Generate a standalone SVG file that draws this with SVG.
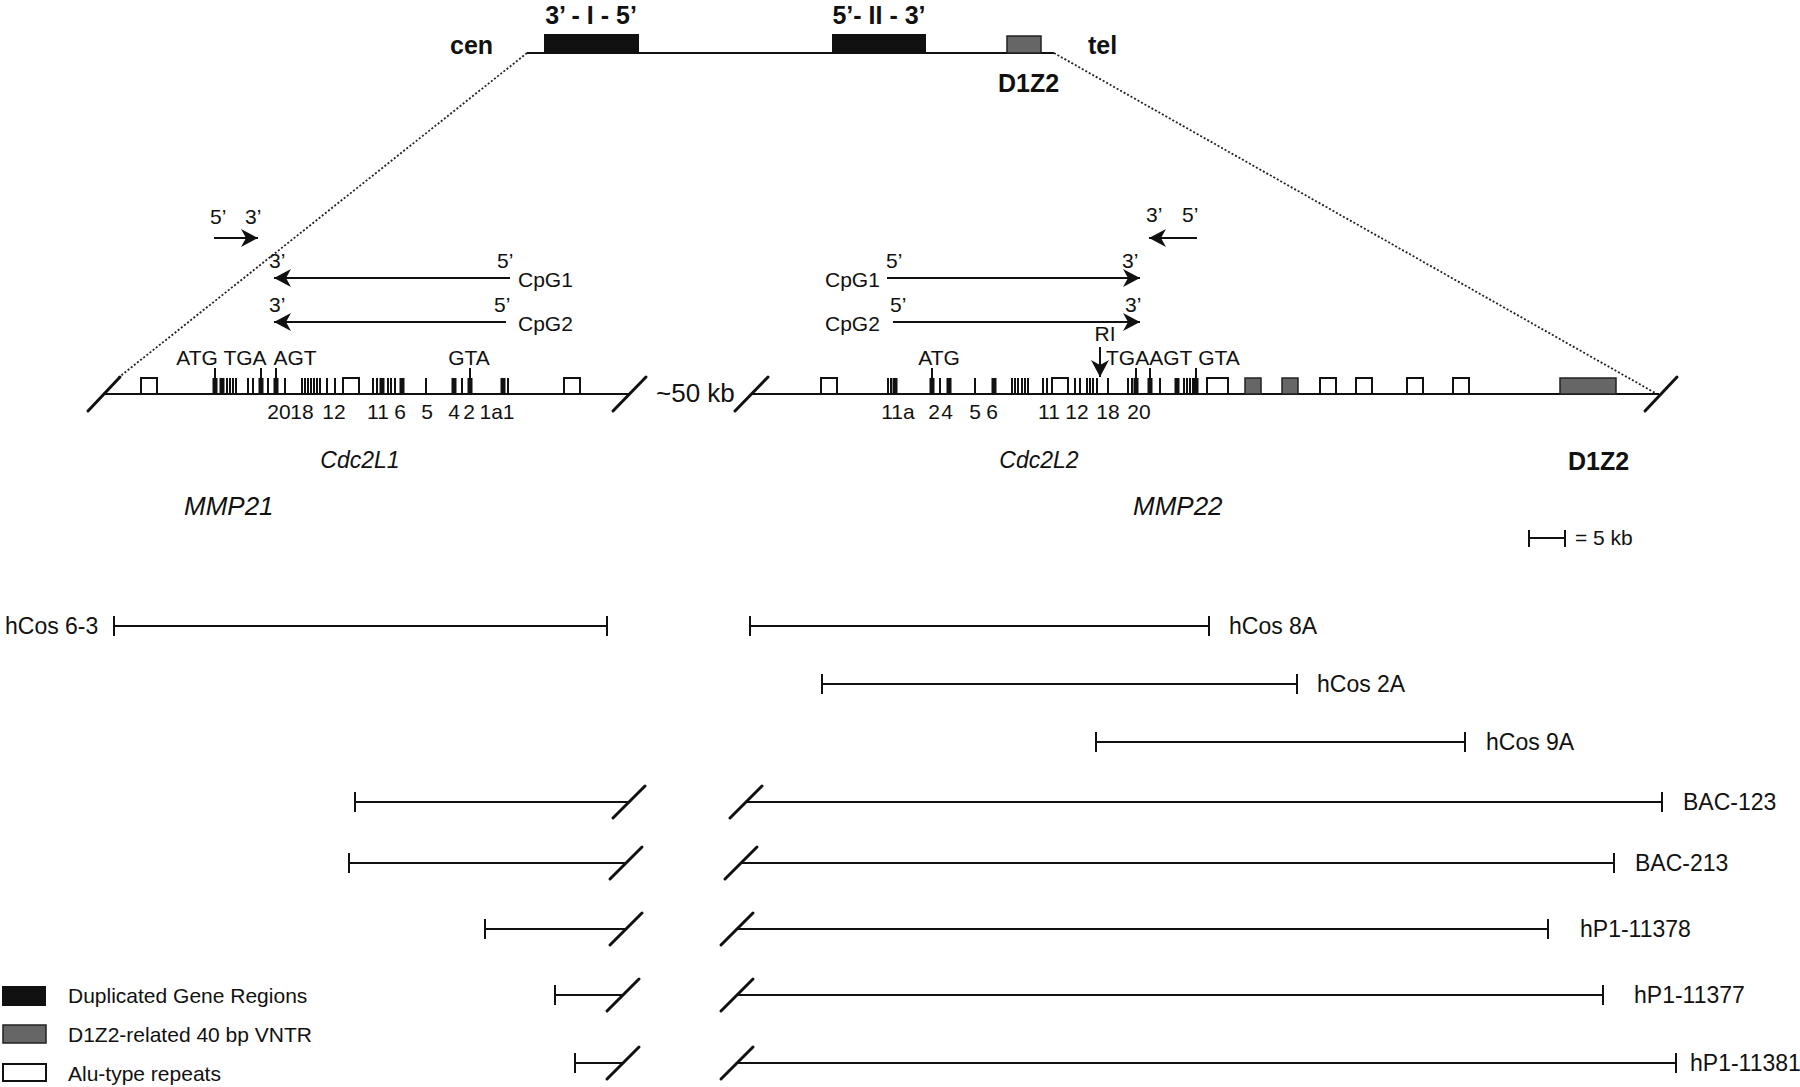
<svg xmlns="http://www.w3.org/2000/svg" width="1800" height="1087" viewBox="0 0 1800 1087">
<style>
text{font-family:"Liberation Sans",Arial,sans-serif;fill:#111}
.b{font-weight:bold;font-size:25px}
.l{font-size:21px}
.s{font-size:21px}
.n{font-size:21px;text-anchor:middle}
.it{font-style:italic;font-size:23px}
.mm{font-style:italic;font-size:26px}
.cl{font-size:23px}
.ln{stroke:#111;stroke-width:2;fill:none}
.sl{stroke:#111;stroke-width:3;fill:none;stroke-linecap:round}
.th{stroke:#111;stroke-width:2;fill:none}
.tk{stroke:#111;stroke-width:5;fill:none}
.alu{fill:#fff;stroke:#111;stroke-width:2}
.vn{fill:#666;stroke:#222;stroke-width:1.5}
.dup{fill:#111}
.dot{stroke:#222;stroke-width:1.8;stroke-dasharray:2 2;fill:none}
</style>
<defs>
<marker id="ah" markerWidth="20" markerHeight="20" viewBox="-18 -10 20 20" refX="0" refY="0" orient="auto" markerUnits="userSpaceOnUse">
<path d="M0,0 L-17,-9 L-12,0 L-17,9 Z" fill="#111"/>
</marker>
</defs>
<rect width="1800" height="1087" fill="#fff"/>

<g id="chromosome">
<line class="ln" x1="527" y1="53" x2="1054" y2="53"/>
<rect class="dup" x="544" y="34" width="95" height="19"/>
<rect class="dup" x="832" y="34" width="94" height="19"/>
<rect class="vn" x="1007" y="36" width="34" height="17"/>
<text class="b" x="591" y="24" text-anchor="middle">3’ - I - 5’</text>
<text class="b" x="879" y="24" text-anchor="middle">5’- II - 3’</text>
<text class="b" x="450" y="54">cen</text>
<text class="b" x="1088" y="54">tel</text>
<text class="b" x="998" y="92">D1Z2</text>
</g>

<g id="connectors">
<line class="dot" x1="527" y1="53" x2="118" y2="378"/>
<line class="dot" x1="1054" y1="53" x2="1657" y2="394"/>
</g>

<g id="primers">
<text class="l" x="210" y="224">5’</text>
<text class="l" x="245" y="224">3’</text>
<line class="ln" x1="214" y1="238" x2="258" y2="238" marker-end="url(#ah)"/>
<text class="l" x="1146" y="222">3’</text>
<text class="l" x="1182" y="222">5’</text>
<line class="ln" x1="1197" y1="238" x2="1149" y2="238" marker-end="url(#ah)"/>
</g>

<g id="cpg-left">
<text class="l" x="269" y="268">3’</text>
<text class="l" x="497" y="268">5’</text>
<line class="ln" x1="510" y1="278" x2="274" y2="278" marker-end="url(#ah)"/>
<text class="l" x="518" y="287">CpG1</text>
<text class="l" x="269" y="312">3’</text>
<text class="l" x="494" y="312">5’</text>
<line class="ln" x1="506" y1="322" x2="274" y2="322" marker-end="url(#ah)"/>
<text class="l" x="518" y="331">CpG2</text>
</g>

<g id="cpg-right">
<text class="l" x="825" y="287">CpG1</text>
<text class="l" x="886" y="268">5’</text>
<line class="ln" x1="887" y1="278" x2="1140" y2="278" marker-end="url(#ah)"/>
<text class="l" x="1122" y="268">3’</text>
<text class="l" x="825" y="331">CpG2</text>
<text class="l" x="890" y="312">5’</text>
<line class="ln" x1="893" y1="322" x2="1140" y2="322" marker-end="url(#ah)"/>
<text class="l" x="1125" y="312">3’</text>
</g>

<g id="gene-Cdc2L1">
<line class="ln" x1="104" y1="394" x2="630" y2="394"/>
<line class="sl" x1="88" y1="411" x2="120" y2="377"/>
<line class="sl" x1="613" y1="411" x2="646" y2="377"/>
<rect class="alu" x="141" y="378" width="16" height="16"/>
<rect class="alu" x="343" y="378" width="16" height="16"/>
<rect class="alu" x="564" y="378" width="16" height="16"/>
<path class="th" d="M227,394V378M230,394V378M233,394V378M236,394V378M248,394V378M253,394V378M268,394V378M285,394V378M302,394V378M305,394V378M308,394V378M311,394V378M314,394V378M317,394V378M320,394V378M327,394V378M335,394V378M373,394V378M377,394V378M388,394V378M391,394V378M395,394V378M426,394V378M462,394V378M508,394V378M215,378V368M261,378V368M276,378V368M470,378V368"/>
<path class="tk" d="M215,394V378M222,394V378M261,394V378M276,394V378M382,394V378M402,394V378M454,394V378M470,394V378M503,394V378"/>
<text class="s" x="197" y="365" text-anchor="middle">ATG</text>
<text class="s" x="245" y="365" text-anchor="middle">TGA</text>
<text class="s" x="295" y="365" text-anchor="middle">AGT</text>
<text class="s" x="469" y="365" text-anchor="middle">GTA</text>
<text class="n" x="279" y="419">20</text>
<text class="n" x="302" y="419">18</text>
<text class="n" x="334" y="419">12</text>
<text class="n" x="378" y="419">11</text>
<text class="n" x="400" y="419">6</text>
<text class="n" x="427" y="419">5</text>
<text class="n" x="454" y="419">4</text>
<text class="n" x="469" y="419">2</text>
<text class="n" x="497" y="419">1a1</text>
<text class="it" x="360" y="468" text-anchor="middle">Cdc2L1</text>
<text class="mm" x="184" y="515">MMP21</text>
</g>

<text x="656" y="402" id="gap-label" style="font-size:26px">~50 kb</text>

<g id="gene-Cdc2L2">
<line class="ln" x1="751" y1="394" x2="1659" y2="394"/>
<line class="sl" x1="735" y1="411" x2="768" y2="377"/>
<line class="sl" x1="1645" y1="411" x2="1677" y2="377"/>
<rect class="alu" x="821" y="378" width="16" height="16"/>
<rect class="alu" x="1052" y="378" width="16" height="16"/>
<rect class="alu" x="1207" y="378" width="21" height="16"/>
<rect class="vn" x="1245" y="378" width="16" height="16"/>
<rect class="vn" x="1282" y="378" width="16" height="16"/>
<rect class="alu" x="1320" y="378" width="16" height="16"/>
<rect class="alu" x="1356" y="378" width="16" height="16"/>
<rect class="alu" x="1407" y="378" width="16" height="16"/>
<rect class="alu" x="1453" y="378" width="16" height="16"/>
<rect class="vn" x="1560" y="378" width="56" height="16"/>
<path class="th" d="M888,394V378M891,394V378M940,394V378M975,394V378M1012,394V378M1015,394V378M1018,394V378M1022,394V378M1025,394V378M1028,394V378M1043,394V378M1047,394V378M1075,394V378M1080,394V378M1087,394V378M1090,394V378M1093,394V378M1097,394V378M1108,394V378M1128,394V378M1132,394V378M1160,394V378M1184,394V378M1187,394V378M1190,394V378M1193,394V378M932,378V368M1136,378V368M1150,378V368M1196,378V368"/>
<path class="tk" d="M895,394V378M932,394V378M949,394V378M994,394V378M1136,394V378M1150,394V378M1177,394V378M1196,394V378"/>
<line class="ln" x1="1100" y1="347" x2="1100" y2="377" marker-end="url(#ah)"/>
<text class="s" x="1105" y="341" text-anchor="middle">RI</text>
<text class="s" x="939" y="365" text-anchor="middle">ATG</text>
<text class="s" x="1106" y="365">TGAAGT</text>
<text class="s" x="1219" y="365" text-anchor="middle">GTA</text>
<text class="n" x="898" y="419">11a</text>
<text class="n" x="934" y="419">2</text>
<text class="n" x="947" y="419">4</text>
<text class="n" x="975" y="419">5</text>
<text class="n" x="992" y="419">6</text>
<text class="n" x="1049" y="419">11</text>
<text class="n" x="1077" y="419">12</text>
<text class="n" x="1108" y="419">18</text>
<text class="n" x="1139" y="419">20</text>
<text class="it" x="1039" y="468" text-anchor="middle">Cdc2L2</text>
<text class="mm" x="1133" y="515">MMP22</text>
<text class="b" x="1568" y="470">D1Z2</text>
</g>

<g id="scale-bar">
<path class="ln" d="M1529,538H1565M1529,530V547M1565,530V547"/>
<text class="l" x="1575" y="545">= 5 kb</text>
</g>

<g id="clone-hCos6-3">
<path class="ln" d="M114,626H607M114,616V636M607,616V636"/>
<text class="cl" x="5" y="634">hCos 6-3</text>
</g>
<g id="clone-hCos8A">
<path class="ln" d="M750,626H1209M750,616V636M1209,616V636"/>
<text class="cl" x="1229" y="634">hCos 8A</text>
</g>
<g id="clone-hCos2A">
<path class="ln" d="M822,684H1297M822,674V694M1297,674V694"/>
<text class="cl" x="1317" y="692">hCos 2A</text>
</g>
<g id="clone-hCos9A">
<path class="ln" d="M1096,742H1465M1096,732V752M1465,732V752"/>
<text class="cl" x="1486" y="750">hCos 9A</text>
</g>
<g id="clone-BAC-123">
<path class="ln" d="M355,802H629M355,792V812M746,802H1662M1662,792V812"/>
<path class="sl" d="M613,818L645,786M730,818L762,786"/>
<text class="cl" x="1683" y="810">BAC-123</text>
</g>
<g id="clone-BAC-213">
<path class="ln" d="M349,863H626M349,853V873M741,863H1614M1614,853V873"/>
<path class="sl" d="M610,879L642,847M725,879L757,847"/>
<text class="cl" x="1635" y="871">BAC-213</text>
</g>
<g id="clone-hP1-11378">
<path class="ln" d="M485,929H626M485,919V939M737,929H1548M1548,919V939"/>
<path class="sl" d="M610,945L642,913M721,945L753,913"/>
<text class="cl" x="1580" y="937">hP1-11378</text>
</g>
<g id="clone-hP1-11377">
<path class="ln" d="M555,995H623M555,985V1005M737,995H1603M1603,985V1005"/>
<path class="sl" d="M607,1011L639,979M721,1011L753,979"/>
<text class="cl" x="1634" y="1003">hP1-11377</text>
</g>
<g id="clone-hP1-11381">
<path class="ln" d="M575,1063H623M575,1053V1073M737,1063H1676M1676,1053V1073"/>
<path class="sl" d="M607,1079L639,1047M721,1079L753,1047"/>
<text class="cl" x="1690" y="1071">hP1-11381</text>
</g>

<g id="legend">
<rect class="dup" x="2" y="986" width="44" height="20"/>
<text class="l" x="68" y="1003">Duplicated Gene Regions</text>
<rect class="vn" x="3" y="1025" width="43" height="18"/>
<text class="l" x="68" y="1042">D1Z2-related 40 bp VNTR</text>
<rect class="alu" x="3" y="1064" width="43" height="17"/>
<text class="l" x="68" y="1081">Alu-type repeats</text>
</g>
</svg>
